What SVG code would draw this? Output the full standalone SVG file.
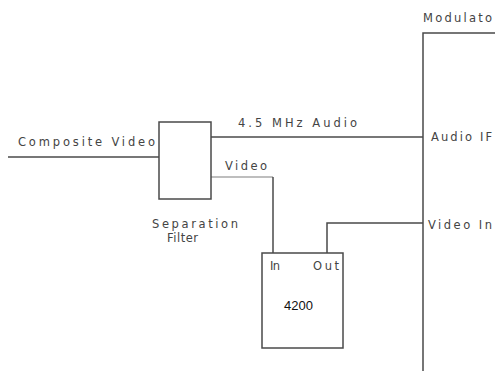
<svg xmlns="http://www.w3.org/2000/svg" width="495" height="371" viewBox="0 0 495 371">
<style>
.t{font-family:"DejaVu Sans","Liberation Sans",sans-serif;font-size:11.5px;fill:#444}
.a{font-family:"Liberation Sans",Arial,sans-serif;font-size:13px;fill:#111}
.ln{fill:none;stroke:#4a4a4a;stroke-width:1.5}
.lg{fill:none;stroke:#a8a8a8;stroke-width:1.5}
.bx{fill:#fff;stroke:#4a4a4a;stroke-width:1.5}
</style>
<rect width="495" height="371" fill="#fff"/>
<g id="connectors">
<path class="ln" d="M8 157H159"/>
<path class="ln" d="M211 137H423"/>
<path class="lg" d="M211 177H273"/>
<path class="ln" d="M273 177V253"/>
<path class="ln" d="M327 253V223H423"/>
</g>
<g id="modulator">
<path class="ln" d="M495 33H423V371"/>
<text class="t" x="423" y="22" textLength="69" lengthAdjust="spacing">Modulato</text>
<text class="t" x="431" y="141" textLength="61" lengthAdjust="spacing">Audio IF</text>
<text class="t" x="428" y="229" textLength="64" lengthAdjust="spacing">Video In</text>
</g>
<g id="filter">
<rect class="bx" x="159" y="122" width="52" height="77"/>
<text class="t" x="152" y="228" textLength="86" lengthAdjust="spacing">Separation</text>
<text class="t" x="167" y="242" textLength="31" lengthAdjust="spacing">Filter</text>
</g>
<g id="dev4200">
<rect class="bx" x="262" y="253" width="81" height="95"/>
<text class="t" x="270" y="270" textLength="10" lengthAdjust="spacing">In</text>
<text class="t" x="313" y="270" textLength="26" lengthAdjust="spacing">Out</text>
<text class="a" x="284" y="310">4200</text>
</g>
<g id="labels">
<text class="t" x="18" y="146" textLength="137" lengthAdjust="spacing">Composite Video</text>
<text class="t" x="238" y="127" textLength="119" lengthAdjust="spacing">4.5 MHz Audio</text>
<text class="t" x="225" y="170" textLength="42" lengthAdjust="spacing">Video</text>
</g>
</svg>
